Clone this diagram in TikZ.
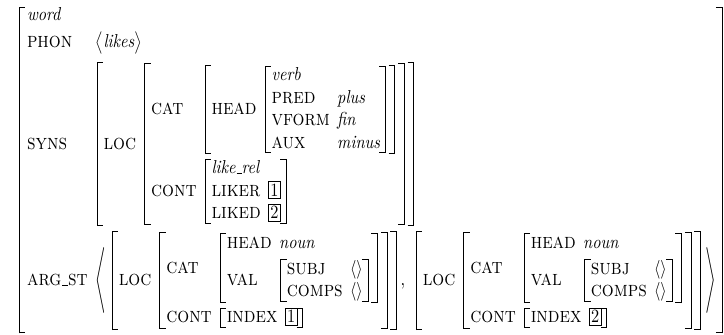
\documentclass[tikz,border=0pt]{standalone}
\usepackage{amsmath}
\usepackage{graphicx}
\newcommand{\lab}[1]{\text{\fontsize{11.5pt}{12pt}\selectfont\scshape #1}}
\newcommand{\vl}[1]{\textit{#1}}
\newcommand{\us}{\leavevmode\kern.06em\vbox{\hrule width .3em}}
\newcommand{\tg}[1]{{\setlength{\fboxsep}{1pt}\fbox{#1}}}
\newdimen\brkht \newdimen\brkdp
\newdimen\stem \stem=0.5pt
\newdimen\hook \hook=3.5pt
\newdimen\colgap \colgap=4.5pt
\newdimen\grow \grow=0.6pt
\newdimen\shrt \shrt=0.4pt
\newdimen\shrb \shrb=0.9pt
\def\lbrk{\vrule width\stem height\brkht depth\brkdp
  \rlap{\vrule width\hook height\brkht depth-\dimexpr\brkht-\stem\relax}%
  \rlap{\vrule width\hook height-\dimexpr\brkdp-\stem\relax depth\brkdp}}
\def\rbrk{\llap{\vrule width\hook height\brkht depth-\dimexpr\brkht-\stem\relax}%
  \llap{\vrule width\hook height-\dimexpr\brkdp-\stem\relax depth\brkdp}%
  \vrule width\stem height\brkht depth\brkdp}
\newcommand{\avm}[1]{%
  \setbox0=\hbox{$\displaystyle\begin{array}{@{}l@{\hspace{\colgap}}l@{}}#1\end{array}$}%
  \brkht=\dimexpr\ht0-\shrt\relax
  \brkdp=\dimexpr\dp0-\shrb\relax
  \hbox{\kern0.5pt\lbrk\kern3.7pt\copy0\kern3pt\rbrk\kern2.3pt%
    \vrule width0pt height\dimexpr\ht0+\grow\relax depth\dimexpr\dp0+\grow\relax}}
\newcommand{\outeravm}[1]{%
  \setbox0=\hbox{$\displaystyle\begin{array}{@{}l@{\hspace{5pt}}l@{}}#1\end{array}$}%
  \brkht=\dimexpr\ht0-1.5pt\relax
  \brkdp=\dimexpr\dp0+0.3pt\relax
  \setbox2=\hbox{\lbrk\kern4.5pt\copy0\kern3.5pt\rbrk}%
  \ht2=\brkht \dp2=\brkdp \box2}
\newcommand{\tp}[1]{\multicolumn{2}{@{}l@{}}{#1}}
\newcommand{\bigang}[1]{\vcenter{\hbox{\scalebox{0.8}[1.17]{$\Bigg#1$}}}}
\begin{document}
\begin{tikzpicture}
\useasboundingbox (0,0) rectangle (362pt,-167.5pt);
\node[inner sep=0pt, anchor=north west] (avm) at (9.25pt,-3.5pt) {\resizebox*{351.75pt}{163pt}{$\displaystyle
\outeravm{
\tp{\vl{word}}\\[2.3pt]
\lab{phon} & \bigl\langle\vl{likes}\bigr\rangle\\[3.4pt]
\lab{syns} & \avm{
  \lab{loc} & \avm{
     \lab{cat} & \avm{
          \lab{head} & \avm{
              \tp{\vl{verb}}\\
              \lab{pred} & \vl{plus}\\
              \lab{vform} & \vl{fin}\\
              \lab{aux} & \vl{minus}
           }
        }\\[3.5pt]
     \lab{cont} & \avm{
          \tp{\vl{like\us rel}}\\
          \lab{liker} & \tg{1}\\
          \lab{liked} & \tg{2}
        }
   }
 }\\[2.5pt]
\lab{arg\us st} & \mathopen{\bigang\langle}\kern2.9pt
   \avm{ \lab{loc} & \avm{
        \lab{cat} & \avm{
             \lab{head} & \vl{noun}\\[1.5pt]
             \lab{val} & \avm{\lab{subj}&\langle\rangle\\ \lab{comps}&\langle\rangle}
           }\\
        \lab{cont} & \avm{\lab{index} & \tg{1}}
      }}\mathpunct{,}\hspace{4.5pt}
   \avm{ \lab{loc} & \avm{
        \lab{cat} & \avm{
             \lab{head} & \vl{noun}\\[1.5pt]
             \lab{val} & \avm{\lab{subj}&\langle\rangle\\ \lab{comps}&\langle\rangle}
           }\\
        \lab{cont} & \avm{\lab{index} & \tg{2}}
      }}\kern0.5pt
  \mathclose{\bigang\rangle}
}$}};
\end{tikzpicture}
\end{document}
